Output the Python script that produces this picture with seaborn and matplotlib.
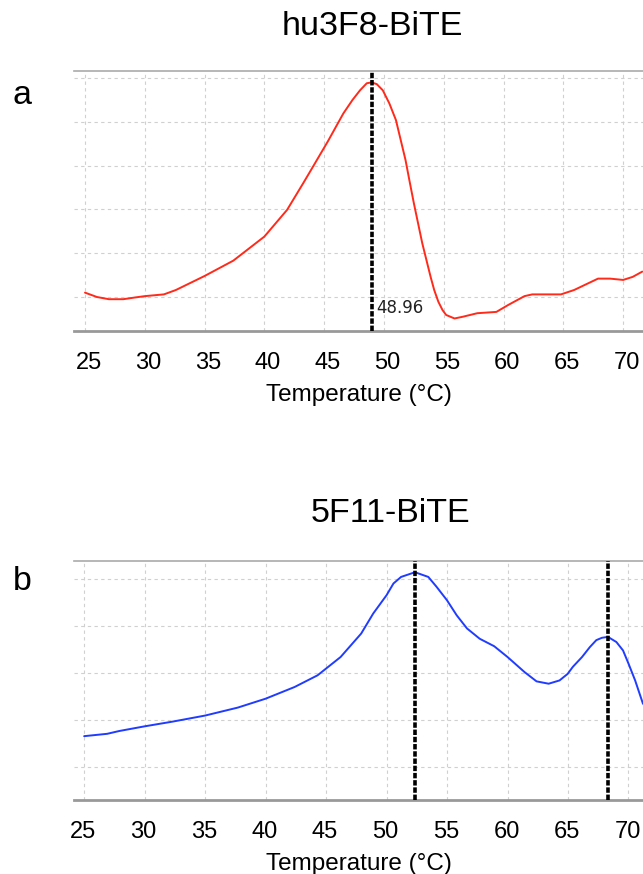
import numpy as np
import pandas as pd
import matplotlib
matplotlib.use("Agg")
import matplotlib.pyplot as plt
import matplotlib.transforms as mtransforms
import seaborn as sns

sns.set_style("white")
plt.rcParams['font.family'] = ['Liberation Sans', 'DejaVu Sans']
plt.rcParams['text.color'] = 'black'
plt.rcParams['axes.labelcolor'] = 'black'

# Panel a: hu3F8-BiTE (единицы условные)
temp_a = [25.0, 26.0, 27.0, 28.2, 29.2, 30.0, 31.6, 32.6, 35.0, 37.4, 40.0, 41.9,
          43.25, 43.9, 45.3, 46.6, 47.37, 48.0, 48.56, 48.96, 49.4, 49.9, 50.45,
          51.0, 51.8, 52.15, 52.5, 53.2, 53.9, 54.2, 54.55, 54.9, 55.2, 55.9, 56.6,
          57.8, 59.4, 60.4, 61.75, 62.4, 64.8, 65.9, 67.9, 68.9, 70.0, 70.8, 71.6]
signal_a = [1.10, 1.00, 0.95, 0.95, 0.99, 1.02, 1.06, 1.16, 1.48, 1.83, 2.38, 2.99,
            3.60, 3.90, 4.55, 5.19, 5.50, 5.72, 5.88, 5.90, 5.86, 5.72, 5.42,
            5.04, 4.13, 3.63, 3.14, 2.23, 1.46, 1.16, 0.89, 0.70, 0.59, 0.51, 0.55,
            0.63, 0.66, 0.82, 1.02, 1.06, 1.06, 1.16, 1.42, 1.42, 1.39, 1.46, 1.58]
peaks_a = [48.96]

# Panel b: 5F11-BiTE
temp_b = [25.0, 26.9, 27.9, 30.0, 32.3, 35.0, 37.7, 40.0, 42.4, 44.3, 46.2, 47.9,
          48.9, 50.0, 50.57, 51.2, 52.35, 53.45, 54.13, 55.0, 55.8, 56.65, 57.7,
          58.9, 60.0, 61.4, 62.4, 63.4, 64.3, 64.97, 65.4, 66.16, 66.8, 67.34, 67.8,
          68.3, 69.0, 69.55, 70.0, 70.55, 71.2]
signal_b = [1.65, 1.70, 1.76, 1.86, 1.96, 2.09, 2.26, 2.45, 2.70, 2.95, 3.34, 3.84,
            4.27, 4.66, 4.91, 5.05, 5.15, 5.05, 4.84, 4.55, 4.23, 3.95, 3.73,
            3.57, 3.34, 3.02, 2.82, 2.77, 2.84, 2.98, 3.13, 3.34, 3.55, 3.70, 3.75,
            3.77, 3.66, 3.48, 3.20, 2.84, 2.34]
peaks_b = [52.33, 68.27]

xticks = list(range(25, 75, 5))

W, H = 643, 874
fig = plt.figure(figsize=(W / 100, H / 100), dpi=100)


def make_panel(top_px, bottom_px, xlim, ylim, yticks, label_shift):
    left = 74 / W
    ax = fig.add_axes([left, 1 - bottom_px / H, 1 - left, (bottom_px - top_px) / H])
    ax.set_xlim(*xlim)
    ax.set_ylim(*ylim)
    ax.set_xticks(xticks)
    ax.set_yticks(yticks)
    ax.set_yticklabels([])
    ax.tick_params(axis='y', length=0)
    ax.tick_params(axis='x', length=5, width=1, color='#999999', labelsize=17,
                   pad=10, labelcolor='black')
    shift = mtransforms.ScaledTranslation(label_shift / 100, 0, fig.dpi_scale_trans)
    for lab in ax.get_xticklabels():
        lab.set_transform(lab.get_transform() + shift)
    ax.grid(True, color='#d0d0d0', linestyle=(0, (3, 3)), linewidth=0.8)
    for s in ['left', 'right']:
        ax.spines[s].set_visible(False)
    ax.spines['top'].set_color('#aaaaaa')
    ax.spines['top'].set_linewidth(1.2)
    ax.spines['bottom'].set_color('#999999')
    ax.spines['bottom'].set_linewidth(2)
    return ax


# --- panel a
ax1 = make_panel(71, 331, (24.08, 71.66), (0.224, 6.16), [1, 2, 3, 4, 5, 6], 3.5)
df_a = pd.DataFrame({'T': temp_a, 'S': signal_a})
sns.lineplot(data=df_a, x='T', y='S', ax=ax1, color='#ff2a1a', linewidth=1.4)
for p in peaks_a:
    ax1.axvline(p, color='black', linestyle=(0, (1.5, 0.5)), linewidth=2.6, zorder=5)
    ax1.text(p + 0.37, 0.628, f'{p:.2f}', fontsize=12,
             family=['Liberation Sans Narrow', 'DejaVu Sans'],
             va='baseline', ha='left', color='#222222')
ax1.set_xlabel('Temperature (°C)', fontsize=17.5, labelpad=7)
ax1.set_ylabel('')

# --- panel b
ax2 = make_panel(561, 800, (24.16, 71.2), (0.287, 5.39), [1, 2, 3, 4, 5], -1)
df_b = pd.DataFrame({'T': temp_b, 'S': signal_b})
sns.lineplot(data=df_b, x='T', y='S', ax=ax2, color='#1f3cff', linewidth=1.4)
for p in peaks_b:
    ax2.axvline(p, color='black', linestyle=(0, (1.5, 0.5)), linewidth=2.6, zorder=5)
ax2.set_xlabel('Temperature (°C)', fontsize=17.5, labelpad=7)
ax2.set_ylabel('')

fig.text(372 / W, 1 - 35 / H, 'hu3F8-BiTE', ha='center', va='baseline', fontsize=24.5)
fig.text(391 / W, 1 - 522 / H, '5F11-BiTE', ha='center', va='baseline', fontsize=24.5)
fig.text(13 / W, 1 - 104 / H, 'a', ha='left', va='baseline', fontsize=24.5)
fig.text(13 / W, 1 - 590 / H, 'b', ha='left', va='baseline', fontsize=24.5)

fig.savefig('out.png', dpi=100)
